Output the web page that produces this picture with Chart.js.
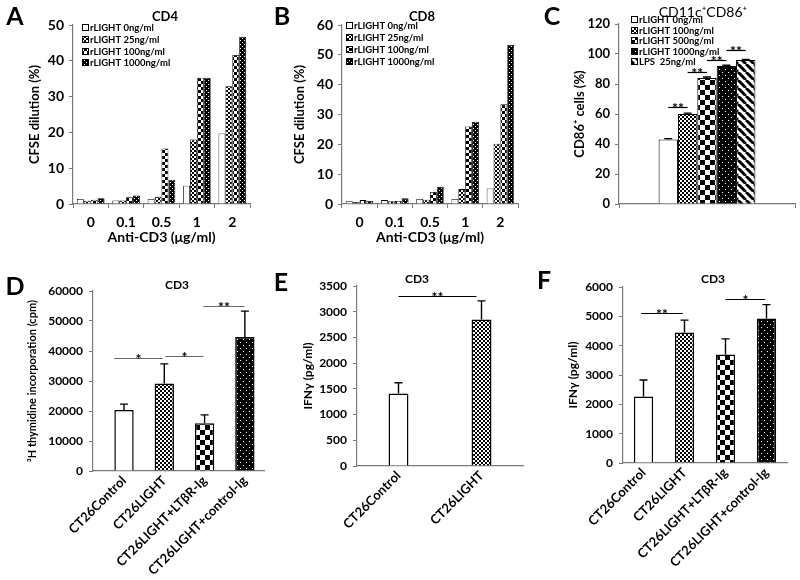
<!DOCTYPE html>
<html>
<head>
<meta charset="utf-8">
<script src="https://cdn.jsdelivr.net/npm/chart.js@4.4.1/dist/chart.umd.min.js"></script>
<style>
  body { margin: 0; background: #fff; }
  #fig { position: relative; width: 800px; height: 580px; }
  #fig canvas { position: absolute; }
</style>
</head>
<body>
<div id="fig">
  <canvas id="panelA" width="265" height="260" style="left:0;top:0"></canvas>
  <canvas id="panelB" width="265" height="260" style="left:265px;top:0"></canvas>
  <canvas id="panelC" width="270" height="260" style="left:530px;top:0"></canvas>
  <canvas id="panelD" width="265" height="310" style="left:0;top:270px"></canvas>
  <canvas id="panelE" width="265" height="310" style="left:265px;top:270px"></canvas>
  <canvas id="panelF" width="270" height="310" style="left:530px;top:270px"></canvas>
</div>
<script>
// ---- data ----
const doses = ['0', '0.1', '0.5', '1', '2'];
const lightNames = ['rLIGHT 0ng/ml', 'rLIGHT 25ng/ml', 'rLIGHT 100ng/ml', 'rLIGHT 1000ng/ml'];

// A: CD4 CFSE dilution (%)
const cd4_0ng = [1.4, 1.0, 1.4, 5.1, 19.7];
const cd4_25ng = [0.9, 1.0, 2.0, 18.0, 32.9];
const cd4_100ng = [1.2, 1.9, 15.5, 35.3, 41.6];
const cd4_1000ng = [1.6, 2.4, 6.8, 35.3, 46.7];

// B: CD8 CFSE dilution (%)
const cd8_0ng = [0.9, 1.3, 1.7, 1.7, 5.2];
const cd8_25ng = [0.7, 0.9, 1.4, 5.0, 20.2];
const cd8_100ng = [1.3, 1.0, 4.0, 26.0, 33.4];
const cd8_1000ng = [1.1, 1.9, 5.7, 27.6, 53.3];

// C: CD11c+CD86+ cells (%)
const cd86Names = ['rLIGHT 0ng/ml', 'rLIGHT 100ng/ml', 'rLIGHT 500ng/ml', 'rLIGHT 1000ng/ml', 'LPS  25ng/ml'];
const cd86Mean = [43, 60, 84, 92, 96];
const cd86Err = [0.6, 0.6, 0.7, 0.5, 0.3];

// D: 3H thymidine incorporation (cpm)
const groups4 = ['CT26Control', 'CT26LIGHT', 'CT26LIGHT+LTβR-Ig', 'CT26LIGHT+control-Ig'];
const thymMean = [20300, 29200, 15900, 44700];
const thymErr = [2000, 6500, 2800, 8600];

// E: IFNγ (pg/ml), two groups
const groups2 = ['CT26Control', 'CT26LIGHT'];
const ifnEMean = [1410, 2850];
const ifnEErr = [210, 360];

// F: IFNγ (pg/ml), four groups
const ifnFMean = [2270, 4450, 3700, 4930];
const ifnFErr = [560, 420, 530, 470];

// ---- look ----
const FONT = 'Lato, "Liberation Sans", sans-serif';
const AXIS = '#7a7a7a';
Chart.defaults.font.family = FONT;
Chart.defaults.color = '#000';

function tile(size, draw) {
    const c = document.createElement('canvas');
    c.width = c.height = size;
    const g = c.getContext('2d');
    draw(g, size);
    return g.createPattern(c, 'repeat');
}
const checker = cell => tile(cell * 2, (g, s) => {
    g.fillStyle = '#fff'; g.fillRect(0, 0, s, s);
    g.fillStyle = '#000'; g.fillRect(0, 0, cell, cell); g.fillRect(cell, cell, cell, cell);
});
const dots = step => tile(step * 2, (g, s) => {
    g.fillStyle = '#000'; g.fillRect(0, 0, s, s);
    g.fillStyle = '#fff'; g.fillRect(0, 0, 1, 1); g.fillRect(step, step, 1, 1);
});
const stripes = (period, w) => tile(period, (g, s) => {
    g.fillStyle = '#fff'; g.fillRect(0, 0, s, s);
    g.strokeStyle = '#000'; g.lineWidth = w;
    for (const k of [-1, 0, 1]) {
        g.beginPath(); g.moveTo(k * s, 0); g.lineTo(k * s + s, s); g.stroke();
    }
});

const smallFills = ['#fff', checker(2), checker(3), dots(2)];
const bigFills = ['#fff', checker(2), checker(5), dots(3), stripes(8, 3)];

// error bars, significance bars, legend, titles, panel letters
const extras = {
    id: 'extras',
    afterDatasetsDraw(chart, args, o) {
        const ctx = chart.ctx, xs = chart.scales.x, ys = chart.scales.y;
        ctx.save();
        ctx.strokeStyle = '#000';
        ctx.lineWidth = 1.4;
        chart.data.datasets.forEach((ds, di) => {
            if (!ds.err) return;
            chart.getDatasetMeta(di).data.forEach((bar, i) => {
                const top = ys.getPixelForValue(ds.data[i] + ds.err[i]);
                ctx.beginPath();
                ctx.moveTo(bar.x, bar.y);
                ctx.lineTo(bar.x, top);
                ctx.moveTo(bar.x - o.cap, top);
                ctx.lineTo(bar.x + o.cap, top);
                ctx.stroke();
            });
        });
        ctx.fillStyle = '#000';
        ctx.textAlign = 'center';
        ctx.textBaseline = 'alphabetic';
        ctx.font = 'bold 14px ' + FONT;
        (o.sig || []).forEach(s => {
            let xa, xb;
            if (s.bars) {
                xa = chart.getDatasetMeta(s.bars[0]).data[0].x;
                xb = chart.getDatasetMeta(s.bars[1]).data[0].x;
            } else {
                xa = xs.getPixelForValue(s.from);
                xb = xs.getPixelForValue(s.to);
            }
            const yy = Math.round(ys.getPixelForValue(s.v)) + 0.5;
            ctx.strokeStyle = o.sigColor;
            ctx.lineWidth = 1.2;
            ctx.beginPath(); ctx.moveTo(xa, yy); ctx.lineTo(xb, yy); ctx.stroke();
            ctx.fillText(s.t, (xa + xb) / 2, yy + 5);
        });
        ctx.restore();
    },
    afterDraw(chart, args, o) {
        const ctx = chart.ctx;
        ctx.save();
        ctx.fillStyle = '#000';
        ctx.textAlign = 'center';
        ctx.textBaseline = 'middle';
        ctx.font = 'bold 25px ' + FONT;
        ctx.fillText(o.letter, o.letterAt[0], o.letterAt[1]);
        ctx.font = o.titleFont + ' ' + FONT;
        ctx.fillText(o.title, o.titleAt[0], o.titleAt[1]);
        if (o.legend) {
            const L = o.legend;
            ctx.textAlign = 'left';
            ctx.font = 'bold ' + L.size + 'px ' + FONT;
            chart.data.datasets.forEach((ds, i) => {
                const yy = Math.round(L.y + i * L.step);
                ctx.fillStyle = ds.backgroundColor;
                ctx.fillRect(L.x, yy - 3, 7, 7);
                ctx.strokeStyle = '#000';
                ctx.lineWidth = 1;
                ctx.strokeRect(L.x + 0.5, yy - 2.5, 6, 6);
                ctx.fillStyle = '#000';
                ctx.fillText(ds.label, L.x + 8, yy + 1);
            });
        }
        ctx.restore();
    }
};

function makePanel(id, p) {
    return new Chart(document.getElementById(id), {
        type: 'bar',
        data: { labels: p.labels, datasets: p.datasets },
        options: {
            responsive: false,
            animation: false,
            layout: { padding: p.pad },
            datasets: { bar: { barPercentage: p.barPct, categoryPercentage: p.catPct } },
            plugins: {
                legend: { display: false },
                tooltip: { enabled: false },
                extras: p.extras
            },
            scales: {
                x: {
                    ticks: {
                        display: p.xLabels !== false,
                        autoSkip: false,
                        maxRotation: p.rot,
                        minRotation: p.rot,
                        padding: p.xPad,
                        font: { weight: 'bold', size: p.xTickSize }
                    },
                    grid: { display: true, drawOnChartArea: false, drawTicks: p.xTicks, tickLength: 4, color: AXIS },
                    border: { display: true, color: AXIS, width: 1.2 },
                    title: {
                        display: !!p.xTitle,
                        text: p.xTitle,
                        font: { weight: 'bold', size: 14 },
                        padding: { top: 0, bottom: 4 }
                    },
                    afterBuildTicks(s) {
                        // the first bar in D sits further from the y axis than the rest
                        if (p.xLead) { s._startValue -= p.xLead; s._valueRange += p.xLead; }
                    },
                    afterFit(s) { s.height = p.xHeight; }
                },
                y: {
                    min: 0,
                    max: p.yMax,
                    ticks: {
                        stepSize: p.yStep,
                        padding: p.yPad,
                        font: { weight: 'bold', size: p.yTickSize },
                        callback: v => String(v)
                    },
                    grid: { display: true, drawOnChartArea: false, tickLength: 4, color: AXIS },
                    border: { display: true, color: AXIS, width: 1.2 },
                    title: {
                        display: true,
                        text: p.yTitle,
                        font: { weight: 'bold', size: p.yTitleSize },
                        padding: { top: 4, bottom: 0 }
                    },
                    afterFit(s) { s.width = p.yWidth; }
                }
            }
        },
        plugins: [extras]
    });
}

function doseSets(series) {
    return series.map((vals, i) => ({
        label: lightNames[i],
        data: vals,
        backgroundColor: smallFills[i],
        borderColor: '#000',
        borderWidth: 0.8
    }));
}

// A
makePanel('panelA', {
    labels: doses,
    datasets: doseSets([cd4_0ng, cd4_25ng, cd4_100ng, cd4_1000ng]),
    pad: { left: 23, top: 25, right: 15, bottom: 10 },
    yWidth: 50, xHeight: 46,
    yMax: 50, yStep: 10, yTickSize: 14, yPad: 5,
    yTitle: 'CFSE dilution (%)', yTitleSize: 13,
    xTitle: 'Anti-CD3 (μg/ml)', xTickSize: 14, xPad: 6, rot: 0, xTicks: true,
    barPct: 1.0, catPct: 0.78,
    extras: {
        letter: 'A', letterAt: [15, 17],
        title: 'CD4', titleFont: 'bold 13px', titleAt: [165, 17],
        legend: { x: 82, y: 27, step: 11.8, size: 9.5 },
        cap: 3, sigColor: '#000'
    }
});

// B
makePanel('panelB', {
    labels: doses,
    datasets: doseSets([cd8_0ng, cd8_25ng, cd8_100ng, cd8_1000ng]),
    pad: { left: 23, top: 25, right: 12, bottom: 10 },
    yWidth: 54, xHeight: 46,
    yMax: 60, yStep: 10, yTickSize: 14, yPad: 5,
    yTitle: 'CFSE dilution (%)', yTitleSize: 13,
    xTitle: 'Anti-CD3 (μg/ml)', xTickSize: 14, xPad: 6, rot: 0, xTicks: true,
    barPct: 1.0, catPct: 0.78,
    extras: {
        letter: 'B', letterAt: [17, 17],
        title: 'CD8', titleFont: 'bold 13px', titleAt: [157, 17],
        legend: { x: 81, y: 25, step: 12, size: 9.5 },
        cap: 3, sigColor: '#000'
    }
});

// C
makePanel('panelC', {
    labels: [''],
    datasets: cd86Mean.map((v, i) => ({
        label: cd86Names[i],
        data: [v],
        err: [cd86Err[i]],
        backgroundColor: bigFills[i],
        borderColor: '#000',
        borderWidth: 1
    })),
    pad: { left: 38, top: 24, right: 5, bottom: 0 },
    yWidth: 51, xHeight: 56,
    yMax: 120, yStep: 20, yTickSize: 13, yPad: 5,
    yTitle: 'CD86⁺ cells (%)', yTitleSize: 13,
    xLabels: false, xTickSize: 12, xPad: 0, rot: 0, xTicks: true,
    barPct: 1.0, catPct: 0.55,
    extras: {
        letter: 'C', letterAt: [22, 17],
        title: 'CD11c⁺CD86⁺', titleFont: '14px', titleAt: [173, 12],
        legend: { x: 101, y: 19, step: 10.6, size: 9.5 },
        cap: 4, sigColor: '#000',
        sig: [
            { bars: [0, 1], v: 65, t: '**' },
            { bars: [1, 2], v: 88, t: '**' },
            { bars: [2, 3], v: 96, t: '**' },
            { bars: [3, 4], v: 102.7, t: '**' }
        ]
    }
});

// D
makePanel('panelD', {
    labels: groups4,
    datasets: [{
        data: thymMean,
        err: thymErr,
        backgroundColor: [bigFills[0], bigFills[1], bigFills[2], bigFills[3]],
        borderColor: '#000',
        borderWidth: 1.5
    }],
    pad: { left: 22, top: 21, right: 0, bottom: 0 },
    yWidth: 71, xHeight: 109, xLead: 0.27,
    yMax: 60000, yStep: 10000, yTickSize: 12, yPad: 6,
    yTitle: '³H thymidine incorporation (cpm)', yTitleSize: 11,
    xTickSize: 13, xPad: 2, rot: 45, xTicks: false,
    barPct: 0.48, catPct: 1.0,
    extras: {
        letter: 'D', letterAt: [15, 17],
        title: 'CD3', titleFont: 'bold 12px', titleAt: [177, 15],
        cap: 4, sigColor: '#666',
        sig: [
            { from: -0.24, to: 0.96, v: 37600, t: '*' },
            { from: 1.03, to: 1.97, v: 38300, t: '*' },
            { from: 1.97, to: 2.99, v: 55100, t: '**' }
        ]
    }
});

// E
makePanel('panelE', {
    labels: groups2,
    datasets: [{
        data: ifnEMean,
        err: ifnEErr,
        backgroundColor: [bigFills[0], bigFills[1]],
        borderColor: '#000',
        borderWidth: 1.5
    }],
    pad: { left: 32, top: 16, right: 7, bottom: 0 },
    yWidth: 60, xHeight: 114,
    yMax: 3500, yStep: 500, yTickSize: 12, yPad: 6,
    yTitle: 'IFNγ (pg/ml)', yTitleSize: 12,
    xTickSize: 13, xPad: 2, rot: 45, xTicks: false,
    barPct: 0.24, catPct: 1.0,
    extras: {
        letter: 'E', letterAt: [16, 13],
        title: 'CD3', titleFont: 'bold 12px', titleAt: [152, 9],
        cap: 4, sigColor: '#000',
        sig: [{ from: 0, to: 0.94, v: 3300, t: '**' }]
    }
});

// F
makePanel('panelF', {
    labels: groups4,
    datasets: [{
        data: ifnFMean,
        err: ifnFErr,
        backgroundColor: [bigFills[0], bigFills[1], bigFills[2], bigFills[3]],
        borderColor: '#000',
        borderWidth: 1.5
    }],
    pad: { left: 32, top: 17, right: 13, bottom: 0 },
    yWidth: 61, xHeight: 117,
    yMax: 6000, yStep: 1000, yTickSize: 12, yPad: 6,
    yTitle: 'IFNγ (pg/ml)', yTitleSize: 12,
    xTickSize: 13, xPad: 2, rot: 45, xTicks: false,
    barPct: 0.47, catPct: 1.0,
    extras: {
        letter: 'F', letterAt: [14, 11],
        title: 'CD3', titleFont: 'bold 12px', titleAt: [183, 9],
        cap: 4, sigColor: '#000',
        sig: [
            { from: -0.06, to: 0.96, v: 5100, t: '**' },
            { from: 2.0, to: 2.97, v: 5600, t: '*' }
        ]
    }
});
</script>
</body>
</html>
